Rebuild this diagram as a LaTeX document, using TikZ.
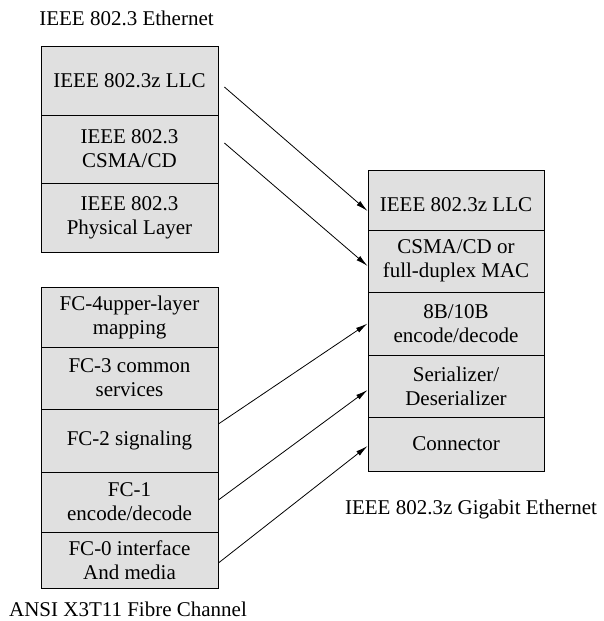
\documentclass[tikz,border=0pt]{standalone}
\usepackage{fontspec}
\setmainfont{Liberation Serif}
\usetikzlibrary{arrows.meta,calc}
\definecolor{boxgray}{RGB}{224,224,224}
\begin{document}
\begin{tikzpicture}[x=1pt,y=-1pt,
  cell/.style={draw=black,fill=boxgray,line width=0.8pt,inner sep=0pt,align=center,
    font=\fontsize{21}{24}\selectfont},
  lcell/.style={cell,minimum width=177pt},
  rcell/.style={cell,minimum width=176pt},
  title/.style={font=\fontsize{21}{24}\selectfont,inner sep=0pt,anchor=base},
  conn/.style={line width=0.8pt,-{Latex[length=12pt,width=5.5pt]}}]
\useasboundingbox (0,0) rectangle (604,621);
% left stack 1
\node[lcell,minimum height=69pt] (a1) at (129.5,80.5) {IEEE 802.3z LLC};
\node[lcell,minimum height=68pt] (a2) at (129.5,149) {IEEE 802.3\\CSMA/CD};
\node[lcell,minimum height=69pt] (a3) at (129.5,217.5) {IEEE 802.3\\Physical Layer};
% left stack 2
\node[lcell,minimum height=60pt] (b1) at (129.5,317) {FC-4upper-layer\\mapping};
\node[lcell,minimum height=62pt] (b2) at (129.5,378) {FC-3 common\\services};
\node[lcell,minimum height=63pt] (b3) at (129.5,440.5) {FC-2 signaling};
\node[lcell,minimum height=60pt] (b4) at (129.5,502) {FC-1\\encode/decode};
\node[lcell,minimum height=56pt] (b5) at (129.5,560) {FC-0 interface\\And media};
% right stack
\node[rcell,minimum height=60pt] (r1) at (456,200) {\raisebox{-11pt}[0pt][0pt]{IEEE 802.3z LLC}};
\node[rcell,minimum height=62pt] (r2) at (456,261) {CSMA/CD or\\full-duplex MAC};
\node[rcell,minimum height=63pt] (r3) at (456,323.5) {8B/10B\\encode/decode};
\node[rcell,minimum height=62pt] (r4) at (456,386) {Serializer/\\Deserializer};
\node[rcell,minimum height=54pt] (r5) at (456,444) {Connector};
% titles
\node[title] (t1) at (126.5,25) {IEEE 802.3 Ethernet};
\node[title] (t2) at (128,616) {ANSI X3T11 Fibre Channel};
\node[title] (t3) at (471,514) {IEEE 802.3z Gigabit Ethernet};
% connectors
\draw[conn] ($(a1.east)+(6,6.5)$) -- ($(r1.west)+(0,11)$);
\draw[conn] ($(a2.east)+(6,-6)$) -- ($(r2.west)+(0,5)$);
\draw[conn] ($(b3.east)+(0,-16.5)$) -- (r3.west);
\draw[conn] ($(b4.east)+(0,-2)$) -- ($(r4.west)+(0,4)$);
\draw[conn] ($(b5.east)+(0,3)$) -- ($(r5.west)+(0,2)$);
\end{tikzpicture}
\end{document}
